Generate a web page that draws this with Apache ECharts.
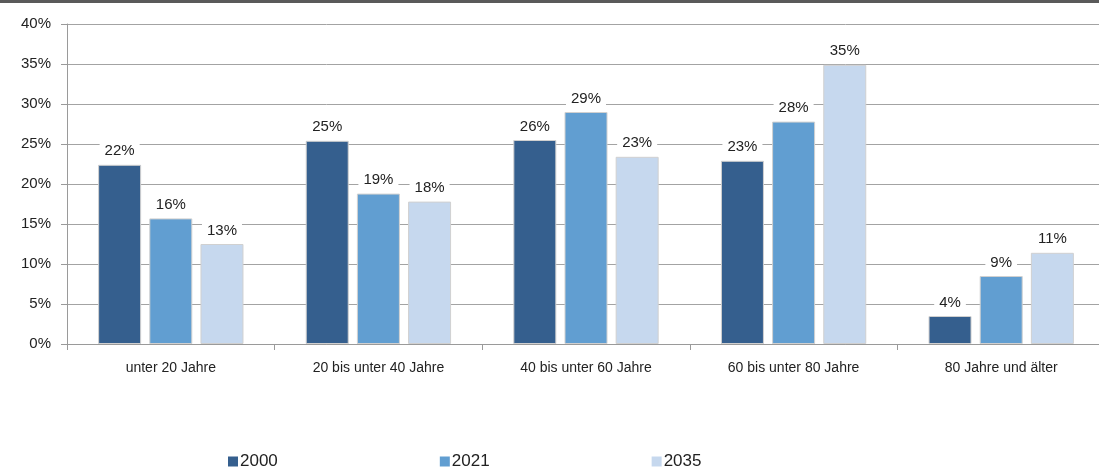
<!DOCTYPE html>
<html>
<head>
<meta charset="utf-8">
<script src="https://cdn.jsdelivr.net/npm/echarts@6/dist/echarts.min.js"></script>
<style>
html,body{margin:0;padding:0;background:#fff;overflow:hidden;}
#chart{width:1112px;height:467px;}
</style>
</head>
<body>
<div id="chart"></div>
<script>
const categories = ['unter 20 Jahre', '20 bis unter 40 Jahre', '40 bis unter 60 Jahre', '60 bis unter 80 Jahre', '80 Jahre und älter'];
const seriesNames = ['2000', '2021', '2035'];
const values2000 = [22.4, 25.4, 25.5, 22.9, 3.5];
const values2021 = [15.7, 18.8, 29.0, 27.8, 8.5];
const values2035 = [12.5, 17.8, 23.4, 34.9, 11.4];
const yTicks = [0, 5, 10, 15, 20, 25, 30, 35, 40];
const colors = ['#355F8E', '#619ED1', '#C6D8EE'];

const font = '"Liberation Sans", Arial, sans-serif';
const allValues = [values2000, values2021, values2035];

const chart = echarts.init(document.getElementById('chart'), null, {renderer: 'canvas'});
chart.setOption({
  animation: false,
  backgroundColor: '#fff',
  textStyle: {fontFamily: font},
  graphic: [{
    type: 'rect',
    shape: {x: 0, y: 0, width: 1112, height: 3},
    style: {fill: '#5a5a5a'}
  }],
  grid: {left: 67, top: 24, width: 1038, height: 320, containLabel: false},
  legend: {
    data: seriesNames,
    left: 223,
    top: 448,
    padding: 5,
    itemWidth: 10,
    itemHeight: 10,
    itemGap: 162,
    icon: 'rect',
    itemStyle: {borderWidth: 0},
    textStyle: {fontFamily: font, fontSize: 17, color: '#222', padding: [0, 0, 0, -3]}
  },
  xAxis: {
    type: 'category',
    data: categories,
    axisLine: {lineStyle: {color: '#9a9a9a', width: 1}},
    axisTick: {show: true, length: 6, lineStyle: {color: '#9a9a9a'}},
    axisLabel: {fontFamily: font, fontSize: 14, color: '#222', margin: 17}
  },
  yAxis: {
    type: 'value',
    min: yTicks[0],
    max: yTicks[yTicks.length - 1],
    interval: 5,
    axisLine: {show: true, lineStyle: {color: '#9a9a9a', width: 1}},
    axisTick: {show: true, length: 6, lineStyle: {color: '#9a9a9a'}},
    splitLine: {lineStyle: {color: '#a3a3a3', width: 1}},
    axisLabel: {fontFamily: font, fontSize: 15, color: '#222', margin: 16, formatter: v => v + '%'}
  },
  series: seriesNames.map((name, i) => ({
    name: name,
    type: 'bar',
    data: allValues[i],
    barWidth: 43,
    barGap: '19%',
    itemStyle: {color: colors[i], borderColor: '#d0d0d0', borderWidth: 1},
    label: {
      show: true,
      position: 'top',
      distance: 6,
      fontFamily: font,
      fontSize: 15,
      color: '#222',
      backgroundColor: '#fff',
      padding: [1, 5, 0, 5],
      formatter: p => Math.round(p.value) + '%'
    }
  }))
});
</script>
</body>
</html>
